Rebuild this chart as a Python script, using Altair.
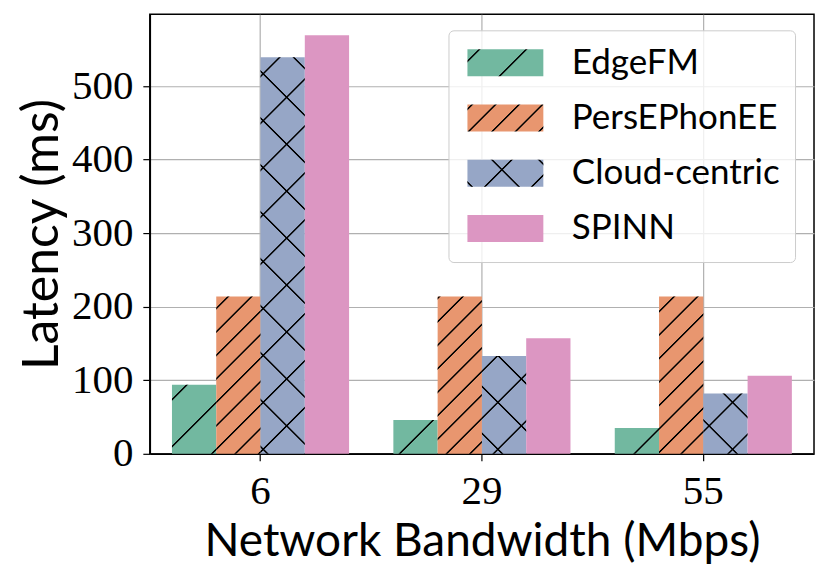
import math
import altair as alt

# ---------------- data ----------------
bandwidth = ["6", "29", "55"]
series = ["EdgeFM", "PersEPhonEE", "Cloud-centric", "SPINN"]
edgefm = [94, 46, 35]
persephonee = [214, 214, 214]
cloud_centric = [539, 133, 82]
spinn = [569, 157, 106]
y_ticks = [0, 100, 200, 300, 400, 500]

colors = ["#72b8a0", "#e8966f", "#96a6c6", "#dc96c2"]
hatches = ["/", "//", "x", ""]
values_by_series = [edgefm, persephonee, cloud_centric, spinn]

# ---------------- layout ----------------
PLOT_W, PLOT_H = 665, 440
LEFT, TOP = 150, 14            # page position of plot area
Y_MAX = max(max(v) for v in values_by_series) * 1.05
STEP = PLOT_W / len(bandwidth)
BAR_W = STEP * 0.8 / len(series)

PERIOD = 47.0
LINE_T = 1.5 * math.sqrt(2)
EDGE = 0.55
PHASE_F = 8.0
PHASE_B = 2.0
CLEAR = "rgba(0,0,0,0)"


def stripes(w, h, offset, period, phase, base, ink="#000000"):
    L = w + h
    stops = [{"offset": 0, "color": base}]
    k = math.floor((offset - phase - 3 * LINE_T) / period)
    while True:
        c = phase + k * period - offset
        if c - 2 * LINE_T > L:
            break
        if c + 2 * LINE_T >= 0:
            for p, col in [(c - LINE_T / 2 - EDGE, base), (c - LINE_T / 2 + EDGE, ink),
                           (c + LINE_T / 2 - EDGE, ink), (c + LINE_T / 2 + EDGE, base)]:
                stops.append({"offset": round(min(max(p / L, 0.0), 1.0), 5), "color": col})
        k += 1
    stops.append({"offset": 1, "color": base})
    return stops


def grad_fwd(w, h, x0, y0, period, base):
    a = (w + h) / (w * w + h * h)
    return {"gradient": "linear", "x1": 0, "y1": 0, "x2": a * w, "y2": a * h,
            "stops": stripes(w, h, x0 + y0, period, PHASE_F, base)}


def grad_back(w, h, x0, y0, period, base):
    a = (w + h) / (w * w + h * h)
    return {"gradient": "linear", "x1": 1, "y1": 0, "x2": 1 - a * w, "y2": a * h,
            "stops": stripes(w, h, -(w + x0 - y0 - PHASE_B), period, 0.0, base)}


rows = []
for i, bw in enumerate(bandwidth):
    for j, s in enumerate(series):
        v = values_by_series[j][i]
        x0 = LEFT + STEP * (0.1 + i) + j * BAR_W
        h = PLOT_H * v / Y_MAX
        y0 = TOP + PLOT_H - h
        fwd, back = None, None
        if hatches[j] in ("/", "x"):
            fwd = grad_fwd(BAR_W, h, x0, y0, PERIOD, CLEAR)
        if hatches[j] == "//":
            fwd = grad_fwd(BAR_W, h, x0, y0, PERIOD / 2, CLEAR)
        if hatches[j] == "x":
            back = grad_back(BAR_W, h, x0, y0, PERIOD, CLEAR)
        rows.append({"bandwidth": bw, "series": s, "latency": v, "col": colors[j],
                     "fwd": fwd, "back": back})

# legend swatch gradients
SW_W, SW_H = 76.0, 27.0
LEG_X, LEG_Y = 449, 30
LEG_PAD = 15
LABEL_SIZE = 35
ROW_PAD = 19.3
sw_x0 = LEG_X + LEG_PAD
sw_centers = [LEG_Y + LEG_PAD + LABEL_SIZE / 2 + k * (LABEL_SIZE + ROW_PAD) for k in range(4)]
leg_grads = {}
for j, s in enumerate(series):
    y0 = sw_centers[j] - SW_H / 2
    if hatches[j] == "/":
        leg_grads[s] = grad_fwd(SW_W, SW_H, sw_x0, y0, PERIOD, colors[j])
    elif hatches[j] == "//":
        leg_grads[s] = grad_fwd(SW_W, SW_H, sw_x0, y0, PERIOD / 2, colors[j])
    elif hatches[j] == "x":
        leg_grads[s] = grad_fwd(SW_W, SW_H, sw_x0, y0, PERIOD, colors[j])
        leg_grads["back"] = grad_back(SW_W, SW_H, sw_x0, y0, PERIOD, CLEAR)

params = [
    alt.VariableParameter(name="legEdge", value=leg_grads["EdgeFM"]),
    alt.VariableParameter(name="legPers", value=leg_grads["PersEPhonEE"]),
    alt.VariableParameter(name="legCloud", value=leg_grads["Cloud-centric"]),
    alt.VariableParameter(name="legBack", value=leg_grads["back"]),
]

overlay_keys = ["~" + s for s in series]   # distinct domain for the overlay legend

expr1 = ("datum.value === 'EdgeFM' ? legEdge : datum.value === 'PersEPhonEE' ? legPers : "
         "datum.value === 'Cloud-centric' ? legCloud : '%s'" % colors[3])
expr2 = "datum.value === '~Cloud-centric' ? legBack : 'rgba(0,0,0,0)'"

UNIT = SW_H  # sqrt(symbolSize)
RECT_PATH = "M-{a},-1L{a},-1L{a},1L-{a},1Z".format(a=round(SW_W / SW_H, 4))

common_legend = dict(
    title=None, orient="none",
    legendX=LEG_X - LEFT, legendY=LEG_Y - TOP,
    symbolType=RECT_PATH, symbolSize=UNIT * UNIT,
    symbolOffset=SW_W / 2 - UNIT / 2,
    symbolStrokeWidth=0, symbolOpacity=1,
    labelFont="Lato", labelFontSize=LABEL_SIZE, labelOffset=49,
    rowPadding=ROW_PAD, padding=LEG_PAD, labelLimit=400,
)

legend1 = alt.Legend(symbolFillColor=alt.ExprRef(expr1), labelColor="black",
                     fillColor="rgba(255,255,255,0.8)", strokeColor="#cccccc",
                     cornerRadius=5, zindex=2, **common_legend)
legend2 = alt.Legend(symbolFillColor=alt.ExprRef(expr2), labelColor="rgba(0,0,0,0)",
                     labelExpr="''", zindex=3, **common_legend)

base = alt.Chart(alt.Data(values=rows))

x_enc = alt.X("bandwidth:N", sort=bandwidth,
              scale=alt.Scale(paddingInner=0.2, paddingOuter=0.1),
              axis=alt.Axis(title="Network Bandwidth (Mbps)", labelAngle=0,
                            bandPosition=0.5, labelPadding=11, titlePadding=8,
                            titleFontSize=46))
xo_enc = alt.XOffset("series:N", sort=series,
                     scale=alt.Scale(domain=series, paddingInner=0, paddingOuter=0))
y_enc = alt.Y("latency:Q", scale=alt.Scale(domain=[0, Y_MAX], nice=False, zero=True),
              axis=alt.Axis(title="Latency (ms)", values=y_ticks, format="d",
                            labelPadding=10, titlePadding=4, titleFontSize=50))

solid = base.mark_bar(strokeWidth=0).encode(
    x=x_enc, xOffset=xo_enc, y=y_enc,
    fill=alt.Fill("col:N", scale=None, legend=None),
    opacity=alt.Opacity("series:O", sort=series,
                        scale=alt.Scale(domain=series, range=[1, 1, 1, 1]), legend=legend1),
)

hatch_fwd = base.transform_filter("datum.fwd != null").mark_bar(strokeWidth=0).encode(
    x=x_enc, xOffset=xo_enc, y=y_enc,
    fill=alt.Fill("fwd:N", scale=None, legend=None),
)

hatch_back = base.transform_filter("datum.back != null").transform_calculate(
    series2="'~' + datum.series"
).mark_bar(strokeWidth=0).encode(
    x=x_enc, xOffset=xo_enc, y=y_enc,
    fill=alt.Fill("back:N", scale=None, legend=None),
    strokeDash=alt.StrokeDash("series2:O", sort=overlay_keys,
                              scale=alt.Scale(domain=overlay_keys,
                                              range=[[1, 0], [1, 0], [1, 0], [1, 0]]),
                              legend=legend2),
)

chart = alt.layer(solid, hatch_fwd, hatch_back, params=params).properties(
    width=PLOT_W, height=PLOT_H,
    padding={"left": LEFT - 8, "top": TOP - 8, "right": 8, "bottom": 130},
    autosize=alt.AutoSizeParams(type="none"),
).configure(font="Lato").configure_view(
    stroke="black", strokeWidth=1.5
).configure_axis(
    domainColor="black", domainWidth=1.5, tickColor="black", tickSize=7, tickWidth=1.2,
    gridColor="#b0b0b0", gridWidth=1.2, grid=True,
    labelFont="Liberation Serif", labelFontSize=41, labelColor="black",
    titleFont="Lato", titleFontSize=40, titleFontWeight="normal", titleColor="black",
    zindex=1,
)

chart.save("out.html", embed_options={"renderer": "svg", "actions": False})
